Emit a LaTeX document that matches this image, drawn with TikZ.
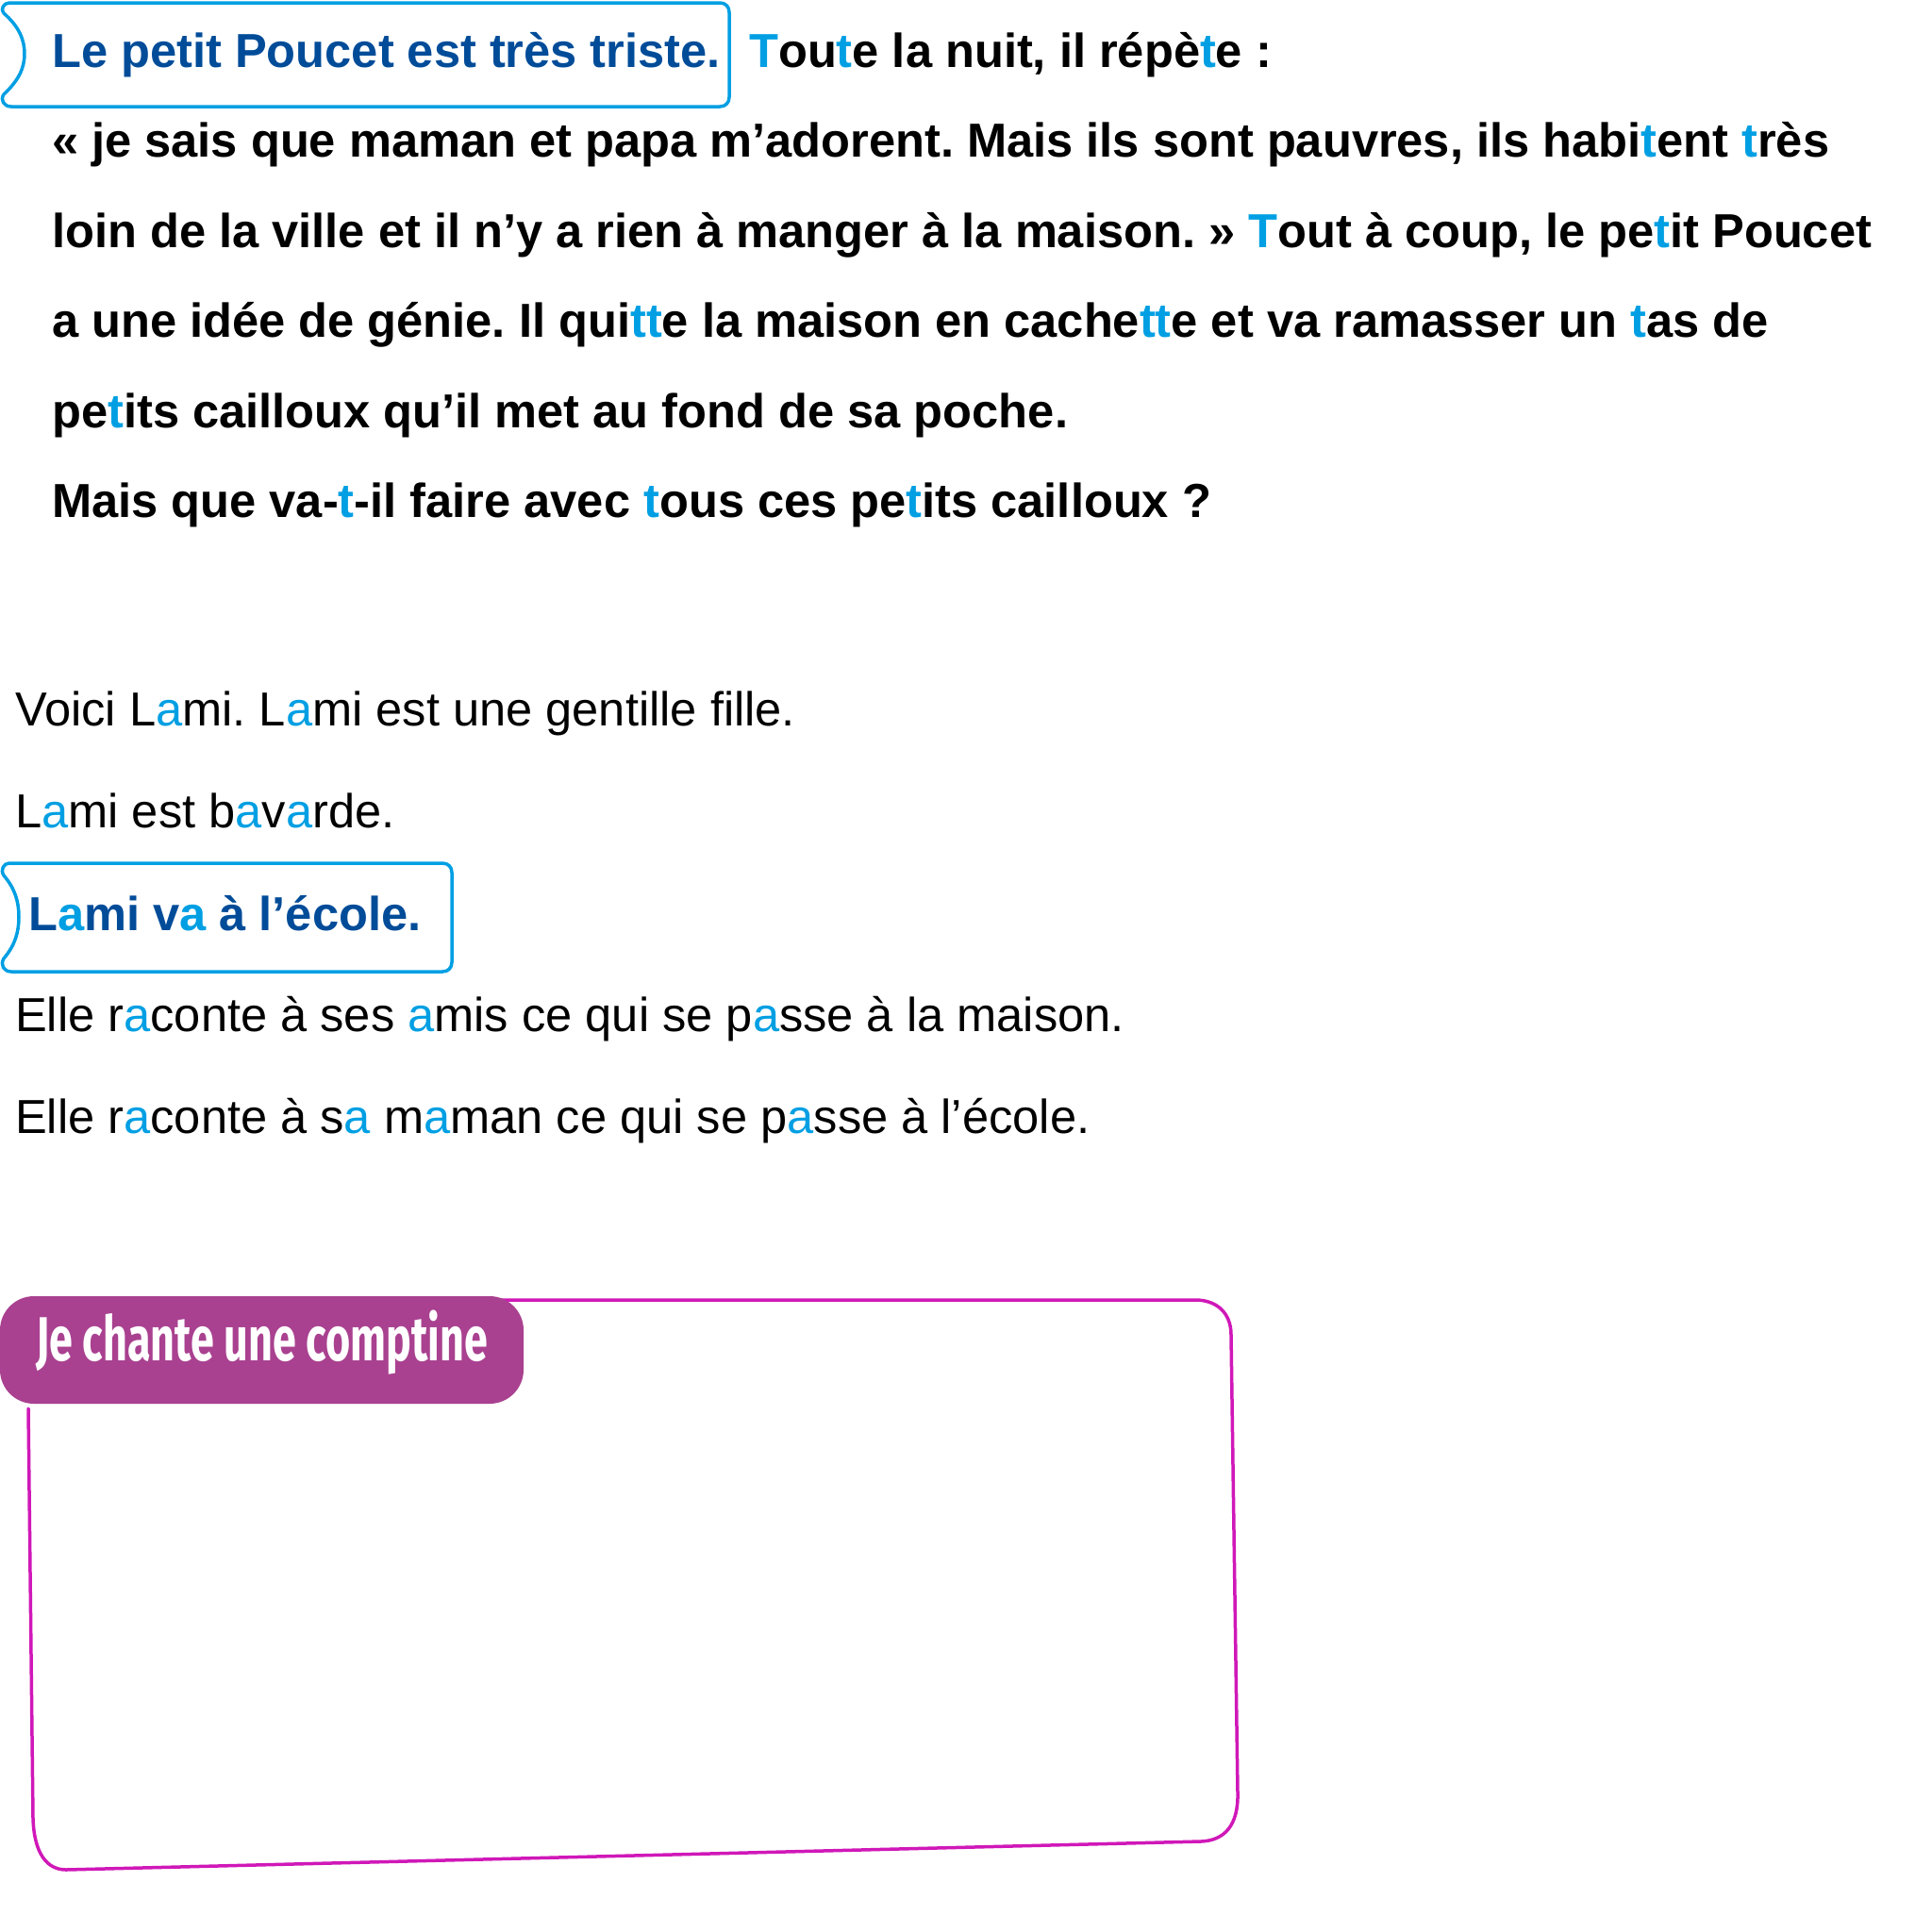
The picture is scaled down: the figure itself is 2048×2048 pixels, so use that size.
\documentclass[tikz,border=0pt]{standalone}
\usepackage{fontspec}
\setmainfont{Liberation Sans}
\newfontfamily\tabfont[FakeStretch=0.68]{Fira Sans}
\definecolor{dblue}{RGB}{0,76,153}
\definecolor{lblue}{RGB}{0,159,227}
\definecolor{tabpurple}{RGB}{169,65,144}
\definecolor{framemag}{RGB}{208,24,184}
\newcommand\hl[1]{\textcolor{lblue}{#1}}
\frenchspacing
\tikzset{
  txt/.style={anchor=base west, inner sep=0pt, font=\fontsize{50.6}{60}\selectfont},
  btxt/.style={txt, font=\fontsize{50.6}{60}\selectfont\bfseries},
  bluebox/.style={draw=lblue, line width=3.5pt, line join=round},
  magframe/.style={draw=framemag, line width=3.5pt, line join=round, line cap=round},
  tabbox/.style={fill=tabpurple, rounded corners=36pt}
}
\begin{document}
\begin{tikzpicture}[x=1pt,y=-1pt]
\useasboundingbox (0,0) rectangle (2048,2048);
% first framed sentence
\draw[bluebox] (10,3) -- (763,3) .. controls (769,3) and (773,7) .. (773,13) -- (773,103)
  .. controls (773,109) and (769,113) .. (763,113) -- (12,113)
  .. controls (4,113) and (0,106) .. (4,100) .. controls (20,85) and (26,72) .. (26,57)
  .. controls (26,42) and (20,28) .. (4,14) .. controls (0,10) and (4,3) .. (10,3) -- cycle;
\node[btxt, text=dblue] (l1a) at (55,71) {Le petit Poucet est très triste.};
\node[btxt] (l1b) at (794,71) {\hl{T}ou\hl{t}e la nuit, il répè\hl{t}e :};
\node[btxt] (l2) at (55,166) {« je sais que maman et papa m’adorent. Mais ils sont pauvres, ils habi\hl{t}ent \hl{t}rès};
\node[btxt] (l3) at (55,262) {loin de la ville et il n’y a rien à manger à la maison. » \hl{T}out à coup, le pe\hl{t}it Poucet};
\node[btxt] (l4) at (55,357) {a une idée de génie. Il qui\hl{tt}e la maison en cache\hl{tt}e et va ramasser un \hl{t}as de};
\node[btxt] (l5) at (55,453) {pe\hl{t}its cailloux qu’il met au fond de sa poche.};
\node[btxt] (l6) at (55,548) {Mais que va-\hl{t}-il faire avec \hl{t}ous ces pe\hl{t}its cailloux ?};
% second part
\node[txt] (r1) at (16,769) {Voici L\hl{a}mi. L\hl{a}mi est une gentille fille.};
\node[txt] (r2) at (16,877) {L\hl{a}mi est b\hl{a}v\hl{a}rde.};
\draw[bluebox] (10,915) -- (469,915) .. controls (475,915) and (479,919) .. (479,925) -- (479,1020)
  .. controls (479,1026) and (475,1030) .. (469,1030) -- (12,1030)
  .. controls (4,1030) and (0,1023) .. (4,1016) .. controls (16,1002) and (20,988) .. (20,972)
  .. controls (20,956) and (16,942) .. (4,928) .. controls (0,922) and (4,915) .. (10,915) -- cycle;
\node[btxt, text=dblue] (r2b) at (30,986) {L\hl{a}mi v\hl{a} à l’école.};
\node[txt] (r3) at (16,1093) {Elle r\hl{a}conte à ses \hl{a}mis ce qui se p\hl{a}sse à la maison.};
\node[txt] (r4) at (16,1201) {Elle r\hl{a}conte à s\hl{a} m\hl{a}man ce qui se p\hl{a}sse à l’école.};
% magenta frame
\draw[magframe] (500,1378) -- (1267,1378) .. controls (1290,1378) and (1305,1392) .. (1305,1415)
  -- (1312,1900) .. controls (1313,1935) and (1298,1951) .. (1273,1952)
  -- (70,1982) .. controls (50,1982) and (36,1965) .. (35,1927) -- (30,1493);
\fill[tabbox] (0,1374) rectangle (555,1488);
\node[anchor=base west, inner sep=0pt, text=white, font=\tabfont\bfseries\fontsize{66}{70}\selectfont] (tab) at (38,1442) {Je chante une comptine};
\end{tikzpicture}
\end{document}
